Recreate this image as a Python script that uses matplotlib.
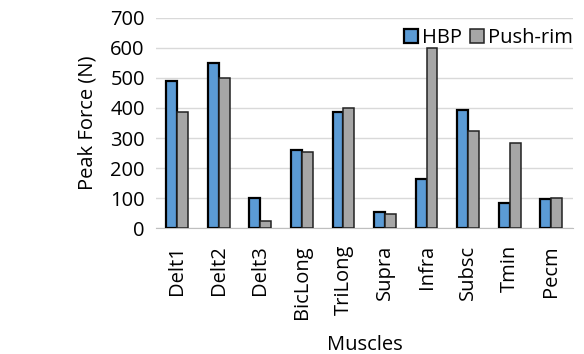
import numpy as np
import matplotlib.pyplot as plt

plt.rcParams['font.family'] = ['Open Sans', 'DejaVu Sans']

# Peak muscle forces (N) for the two propulsion modes
muscles = ['Delt1', 'Delt2', 'Delt3', 'BicLong', 'TriLong',
           'Supra', 'Infra', 'Subsc', 'Tmin', 'Pecm']
hbp = [490, 551, 102, 260, 386, 55, 164, 393, 84, 98]
push_rim = [388, 500, 25, 253, 400, 49, 600, 323, 283, 100]
yticks = [0, 100, 200, 300, 400, 500, 600, 700]

fs = 14.5
fig = plt.figure(figsize=(5.84, 3.54), dpi=100)
ax = fig.add_axes([0.267, 0.355, 0.714, 0.595])

x = np.arange(len(muscles))
w = 0.26
ax.bar(x - w/2, hbp, w, color='#5B9BD5', edgecolor='black', linewidth=1.6,
       label='HBP', zorder=3)
ax.bar(x + w/2, push_rim, w, color='#A6A6A6', edgecolor='#222222', linewidth=1.1,
       label='Push-rim', zorder=3)

ax.set_ylim(0, 700)
ax.set_xlim(-0.51, len(muscles) - 0.48)
ax.set_yticks(yticks)
ax.set_xticks(x)
ax.set_xticklabels(muscles, rotation=90, fontsize=fs)
ax.tick_params(axis='y', labelsize=fs, length=0, pad=8)
ax.tick_params(axis='x', length=0, pad=12)
ax.grid(axis='y', color='#D9D9D9', linewidth=1, zorder=0)
for s in ['top', 'right', 'left']:
    ax.spines[s].set_visible(False)
ax.spines['bottom'].set_color('#BFBFBF')

ax.set_ylabel('Peak Force (N)', fontsize=fs, labelpad=9)
ax.set_xlabel('Muscles', fontsize=fs, labelpad=12)

ax.legend(loc='upper right', bbox_to_anchor=(1.03, 1.01), ncol=2, frameon=False,
          fontsize=fs, handlelength=0.7, handleheight=0.7, handletextpad=0.2,
          columnspacing=0.4, borderaxespad=0.2)

fig.savefig('out.png', dpi=100)
